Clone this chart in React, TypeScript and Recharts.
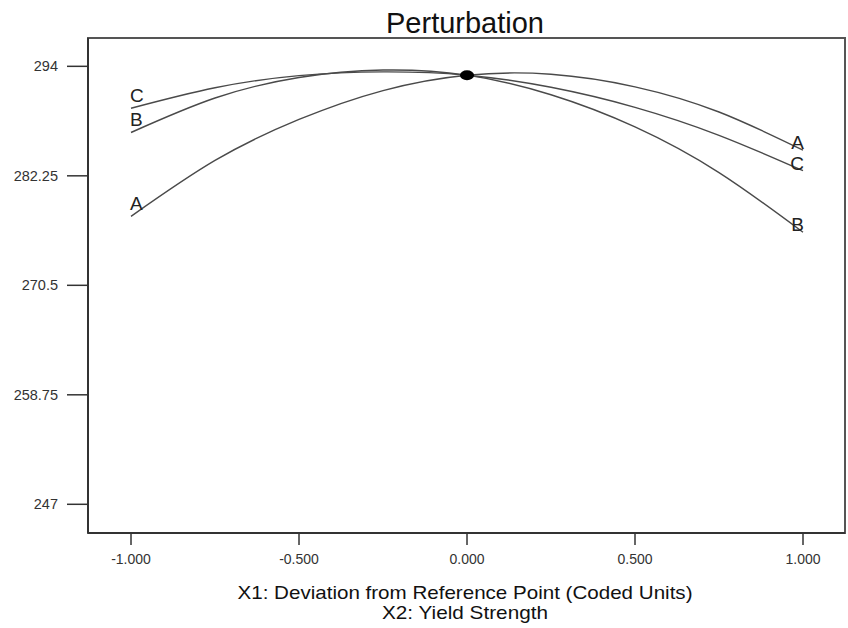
import React from "react";
import {
  LineChart,
  Line,
  XAxis,
  YAxis,
  ReferenceDot,
  ReferenceArea,
  Label,
} from "recharts";

// Coded deviation from reference point
const xValues = [-1, -0.75, -0.5, -0.25, 0, 0.25, 0.5, 0.75, 1];
// Response values
const seriesA = [277.9, 283.9, 288.3, 291.4, 293.05, 293.15, 291.8, 289.1, 285.0];
const seriesB = [286.9, 290.6, 292.8, 293.6, 293.05, 290.95, 287.5, 282.6, 276.2];
const seriesC = [289.5, 291.7, 293.0, 293.4, 293.05, 291.75, 289.6, 286.6, 282.8];
const seriesNames = ["A", "B", "C"];

const xTicks = [-1, -0.5, 0, 0.5, 1];
const yTicks = [247, 258.75, 270.5, 282.25, 294];
const xDomain = [-1.128, 1.125];
const yDomain = [243.92, 297.04];
const centerPoint = { x: 0, y: 293.05 };

const chartTitle = "Perturbation";
const xTitle1 = "X1: Deviation from Reference Point (Coded Units)";
const xTitle2 = "X2: Yield Strength";

const data = xValues.map((x, i) => ({
  x,
  A: seriesA[i],
  B: seriesB[i],
  C: seriesC[i],
}));

const FONT = '"Liberation Sans", Arial, sans-serif';
const LINE_COLOR = "#4a4a4a";

const makeEndLabel = (name: string) => (props: any) => {
  const { x, y, index } = props;
  if (index === 0) {
    return (
      <text
        key={`l-${name}-${index}`}
        x={x - 1}
        y={y - 6}
        fontSize={19}
        fontFamily={FONT}
        fill="#222"
        textAnchor="start"
      >
        {name}
      </text>
    );
  }
  if (index === xValues.length - 1) {
    return (
      <text
        key={`l-${name}-${index}`}
        x={x + 1}
        y={y - 1}
        fontSize={19}
        fontFamily={FONT}
        fill="#222"
        textAnchor="end"
      >
        {name}
      </text>
    );
  }
  return null;
};

export default function App() {
  return (
    <div style={{ width: 848, height: 628, background: "#fff" }}>
      <style>{`html,body{margin:0;padding:0;overflow:hidden;}`}</style>
      <LineChart
        width={848}
        height={628}
        data={data}
        margin={{ top: 38, right: 3, left: 0, bottom: 0 }}
      >
        <XAxis
          xAxisId="bottom"
          dataKey="x"
          type="number"
          domain={xDomain}
          allowDataOverflow
          ticks={xTicks}
          tickFormatter={(v: number) => v.toFixed(3)}
          height={95}
          tickSize={12}
          tickMargin={9}
          axisLine={{ stroke: "#333", strokeWidth: 2 }}
          tickLine={{ stroke: "#333", strokeWidth: 1.5 }}
          tick={{ fill: "#333", fontSize: 14, fontFamily: FONT }}
        >
          <Label
            content={() => (
              <g>
                <text
                  x={465}
                  y={33}
                  textAnchor="middle"
                  fontSize={29}
                  fontFamily={FONT}
                  fill="#111"
                >
                  {chartTitle}
                </text>
                <text
                  x={465}
                  y={599}
                  textAnchor="middle"
                  fontSize={19}
                  fontFamily={FONT}
                  fill="#111"
                  textLength={455}
                  lengthAdjust="spacingAndGlyphs"
                >
                  {xTitle1}
                </text>
                <text
                  x={465}
                  y={619}
                  textAnchor="middle"
                  fontSize={19}
                  fontFamily={FONT}
                  fill="#111"
                  textLength={166}
                  lengthAdjust="spacingAndGlyphs"
                >
                  {xTitle2}
                </text>
              </g>
            )}
          />
        </XAxis>
        <YAxis
          yAxisId="left"
          type="number"
          domain={yDomain}
          allowDataOverflow
          ticks={yTicks}
          width={88}
          tickSize={21}
          tickMargin={9}
          axisLine={{ stroke: "#333", strokeWidth: 2 }}
          tickLine={{ stroke: "#333", strokeWidth: 1.5 }}
          tick={{ fill: "#333", fontSize: 14.5, fontFamily: FONT }}
        />
        <ReferenceArea
          xAxisId="bottom"
          yAxisId="left"
          x1={xDomain[0]}
          x2={xDomain[1]}
          y1={yDomain[0]}
          y2={yDomain[1]}
          fill="none"
          fillOpacity={0}
          stroke="#555"
          strokeWidth={2}
          ifOverflow="visible"
        />
        {seriesNames.map((name) => (
          <Line
            key={name}
            xAxisId="bottom"
            yAxisId="left"
            type="natural"
            dataKey={name}
            stroke={LINE_COLOR}
            strokeWidth={1.4}
            dot={false}
            activeDot={false}
            isAnimationActive={false}
            label={makeEndLabel(name)}
          />
        ))}
        <ReferenceDot
          xAxisId="bottom"
          yAxisId="left"
          x={centerPoint.x}
          y={centerPoint.y}
          r={5}
          shape={(p: any) => (
            <ellipse cx={p.cx} cy={p.cy} rx={7} ry={5} fill="#000" />
          )}
        />
      </LineChart>
    </div>
  );
}
